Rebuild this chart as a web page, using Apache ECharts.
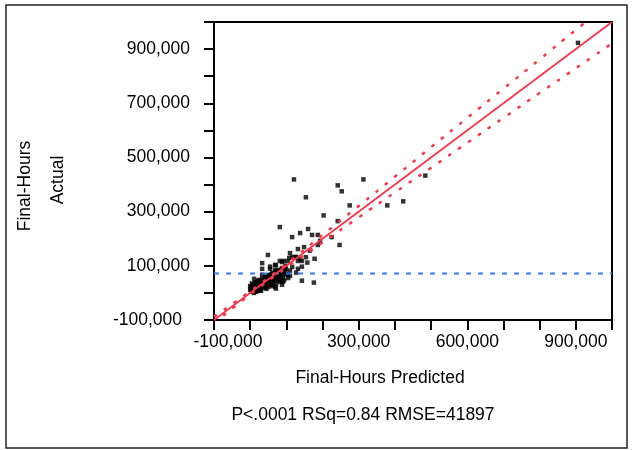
<!DOCTYPE html>
<html lang="en">
<head>
<meta charset="UTF-8">
<title>Final-Hours Actual by Predicted</title>
<style>
  html, body { margin: 0; padding: 0; background: #fff; }
  #main { width: 635px; height: 450px; }
</style>
</head>
<body>
<div id="main"></div>
<script src="https://cdn.jsdelivr.net/npm/echarts@6/dist/echarts.min.js"></script>
<script>
var FONT = '"Liberation Sans", Arial, sans-serif';
var FS = 17.5;

// points, in thousands of hours
var predictedK = [
  906, 484, 423, 379, 313, 242, 253, 275, 242, 247, 225, 203, 121, 154, 82, 116,
  138, 160, 171, 187, 193, 187, 165, 149, 132, 110, 49, 33, 33, 55, 71, 82,
  93, 104, 116, 127, 138, 154, 143, 132, 178, 158, 143, 132, 127, 99, 104, 110,
  93, 143, 176, 71, 88, 88, 77, 66, 55, 33, 11, 22, 44, 69, 88, 108,
  124, 80, 91, 69, 105, 116,
  0, 3, 6, 8, 11, 14, 17, 19, 22, 25, 28, 30, 33, 36, 39, 41,
  44, 47, 50, 53, 55, 58, 61, 64, 66, 69, 72, 75, 77, 80, 83, 86,
  91, 97, 6, 14, 22, 33, 41, 50, 61, 69, 77, 88, 97, 17, 28, 39,
  50, 61, 72, 83, 94, 105, 110, 2, 9, 20, 4, 12,
  5, 10, 15, 20, 25, 30, 35, 40, 45, 50, 55, 60, 65, 70, 75, 80,
  85, 90, 0, 5, 8, 12, 18, 26, 35, 42, 48, 57, 63, 70, 78, 95,
  100, 10, 20, 30, 45, 60
];
var actualK = [
  923, 433, 338, 323, 419, 397, 375, 323, 265, 177, 206, 286, 419, 353, 243, 206,
  221, 236, 214, 214, 192, 177, 156, 169, 162, 147, 140, 110, 89, 97, 103, 118,
  118, 118, 132, 132, 125, 132, 118, 118, 126, 112, 97, 89, 75, 89, 67, 82,
  82, 45, 38, 16, 30, 45, 60, 67, 89, 67, 52, 45, 60, 103, 114, 129,
  133, 77, 41, 22, 66, 96,
  11, 18, 11, 22, 15, 26, 18, 30, 22, 33, 26, 37, 30, 41, 33, 44,
  37, 48, 41, 52, 44, 55, 48, 59, 52, 63, 55, 66, 59, 70, 63, 74,
  66, 78, 30, 37, 44, 52, 59, 66, 74, 85, 85, 92, 100, 4, 11, 18,
  22, 30, 33, 41, 48, 55, 63, 22, 26, 8, 6, 4,
  5, 20, 10, 30, 15, 20, 45, 25, 50, 30, 60, 40, 70, 45, 80, 50,
  85, 55, 25, 35, 8, 28, 40, 48, 28, 56, 34, 68, 38, 78, 48, 90,
  70, 0, 12, 8, 15, 25
];

// fit line and its confidence curves (thousands)
var fitX = [-100, 1000];
var fitY = [-100, 1000];
var bandX  = [-100, 0, 100, 200, 300, 400, 500, 600, 700, 800, 900, 1000];
var upperK = [-88, 6, 107, 214, 321, 429, 538, 646, 754, 862, 971, 1079];
var lowerK = [-112, -6, 93, 186, 279, 371, 462, 554, 646, 738, 829, 921];
var meanActualK = 72;

var xLabelled = [-100000, 300000, 600000, 900000];
var yLabelled = [-100000, 100000, 300000, 500000, 700000, 900000];

function commas(v) {
  var s = String(Math.abs(v)).replace(/\B(?=(\d{3})+(?!\d))/g, ',');
  return v < 0 ? '-' + s : s;
}
function pairs(xs, ys) {
  return xs.map(function (x, i) { return [x * 1000, ys[i] * 1000]; });
}

var RED = '#ee3a4c';
var axisCommon = {
  type: 'value',
  min: -100000,
  max: 1000000,
  interval: 100000,
  splitLine: { show: false },
  axisLine: { show: true, onZero: false, lineStyle: { color: '#000', width: 2 } },
  axisTick: { show: true, length: 10, lineStyle: { color: '#000', width: 2 } }
};

var myChart = echarts.init(document.getElementById('main'));
var option = {
  animation: false,
  backgroundColor: '#fff',
  grid: {
    left: 214, top: 22, width: 398, height: 298,
    show: true, borderColor: '#000', borderWidth: 2, backgroundColor: 'transparent'
  },
  xAxis: Object.assign({}, axisCommon, {
    axisLabel: {
      margin: 13, color: '#000', fontSize: FS, fontFamily: FONT,
      formatter: function (v) {
        if (xLabelled.indexOf(v) < 0) return '';
        return v < 0 ? '{neg|' + commas(v) + '}' : commas(v);
      },
      rich: { neg: { padding: [0, 0, 0, 28], fontSize: FS, fontFamily: FONT, color: '#000' } }
    }
  }),
  yAxis: Object.assign({}, axisCommon, {
    axisLabel: {
      margin: 24, color: '#000', fontSize: FS, fontFamily: FONT,
      formatter: function (v) {
        if (yLabelled.indexOf(v) < 0) return '';
        return v < 0 ? '{neg|' + commas(v) + '}' : commas(v);
      },
      rich: { neg: { padding: [0, 8, 0, 0], fontSize: FS, fontFamily: FONT, color: '#000' } }
    }
  }),
  graphic: [
    { type: 'rect', shape: { x: 6, y: 5, width: 621, height: 443 },
      style: { fill: 'none', stroke: '#222', lineWidth: 1.5 } },
    { type: 'text', x: 25, y: 186, rotation: Math.PI / 2,
      style: { text: 'Final-Hours', fontSize: FS, fontFamily: FONT, fill: '#000',
               align: 'center', verticalAlign: 'middle' } },
    { type: 'text', x: 58, y: 180, rotation: Math.PI / 2,
      style: { text: 'Actual', fontSize: FS, fontFamily: FONT, fill: '#000',
               align: 'center', verticalAlign: 'middle' } },
    { type: 'text', x: 380, y: 378,
      style: { text: 'Final-Hours Predicted', fontSize: FS, fontFamily: FONT, fill: '#000',
               align: 'center', verticalAlign: 'middle' } },
    { type: 'text', x: 363, y: 415,
      style: { text: 'P<.0001 RSq=0.84 RMSE=41897', fontSize: FS, fontFamily: FONT, fill: '#000',
               align: 'center', verticalAlign: 'middle' } }
  ],
  series: [
    {
      type: 'scatter',
      data: pairs(predictedK, actualK),
      symbol: 'rect',
      symbolSize: 4.5,
      itemStyle: { color: '#000' }
    },
    {
      type: 'line',
      data: pairs([-100, 1000], [meanActualK, meanActualK]),
      showSymbol: false,
      lineStyle: { color: '#3b78f0', width: 2, type: [5, 7] }
    },
    {
      type: 'line',
      data: pairs(bandX, upperK),
      smooth: true,
      showSymbol: false,
      lineStyle: { color: RED, width: 2.5, type: [3.5, 8.5] }
    },
    {
      type: 'line',
      data: pairs(bandX, lowerK),
      smooth: true,
      showSymbol: false,
      lineStyle: { color: RED, width: 2.5, type: [3.5, 8.5] }
    },
    {
      type: 'line',
      data: pairs(fitX, fitY),
      showSymbol: false,
      lineStyle: { color: RED, width: 1.8 }
    }
  ]
};
myChart.setOption(option);
</script>
</body>
</html>
